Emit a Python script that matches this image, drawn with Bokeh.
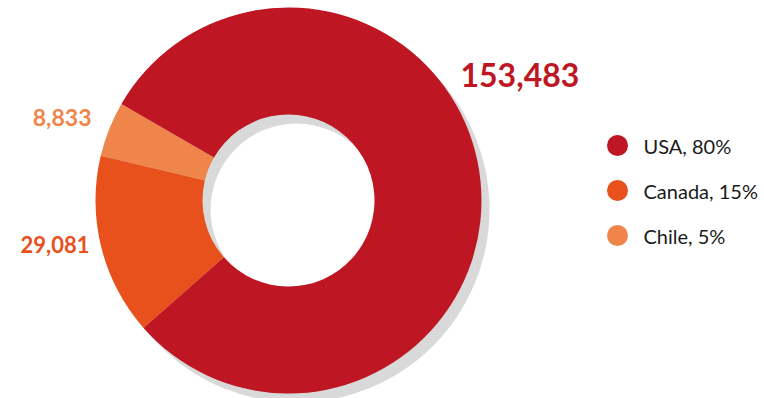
import math
from bokeh.plotting import figure
from bokeh.models import Range1d
from bokeh.core.properties import value
from bokeh.embed import file_html
from bokeh.resources import INLINE

# Data
countries = ["USA", "Canada", "Chile"]
amounts = [153483, 29081, 8833]
shares = ["80%", "15%", "5%"]
value_labels = ["153,483", "29,081", "8,833"]
colors = ["#BE1622", "#E8501C", "#F0854C"]

W, H = 764, 398
p = figure(width=W, height=H, output_backend="svg", toolbar_location=None,
           x_range=Range1d(0, W), y_range=Range1d(-H, 0),
           min_border=0)
p.axis.visible = False
p.grid.visible = False
p.outline_line_color = None
p.background_fill_color = "white"
p.border_fill_color = "white"

cx, cy = 288, -200
R_out, R_in = 193, 86
shadow_dx, shadow_dy = 8, -9

# shadow
p.annulus(x=[cx + shadow_dx], y=[cy + shadow_dy], inner_radius=R_in, outer_radius=R_out,
          fill_color="#D9D9D9", line_color=None)

# slices: counterclockwise from start, order Chile, Canada, USA
total = sum(amounts)
start = math.radians(150)
order = [2, 1, 0]
a = start
for i in order:
    span = 2 * math.pi * amounts[i] / total
    p.annular_wedge(x=[cx], y=[cy], inner_radius=R_in, outer_radius=R_out,
                    start_angle=[a], end_angle=[a + span],
                    fill_color=colors[i], line_color=None)
    a += span

# value labels
lab_pos = [(460, -74, 32), (89, -244, 22), (91, -117, 23)]
for i, (lx, ly, fs) in enumerate(lab_pos):
    align = "left" if i == 0 else "right"
    p.text(x=[lx], y=[ly], text=[value_labels[i]], text_color=colors[i],
           text_font=value("Lato"), text_font_style="bold",
           text_font_size=f"{fs}px", text_align=align, text_baseline="middle")

# legend
leg_y = [-145, -190, -235]
p.scatter(x=[617] * 3, y=leg_y, size=21, marker="circle", fill_color=colors, line_color=None)
p.text(x=[643] * 3, y=leg_y,
       text=[f"{c}, {s}" for c, s in zip(countries, shares)],
       text_color="#1A1A1A", text_font=value("Lato"), text_font_size="20px",
       text_align="left", text_baseline="middle")

open("out.html", "w").write(file_html(p, INLINE))
